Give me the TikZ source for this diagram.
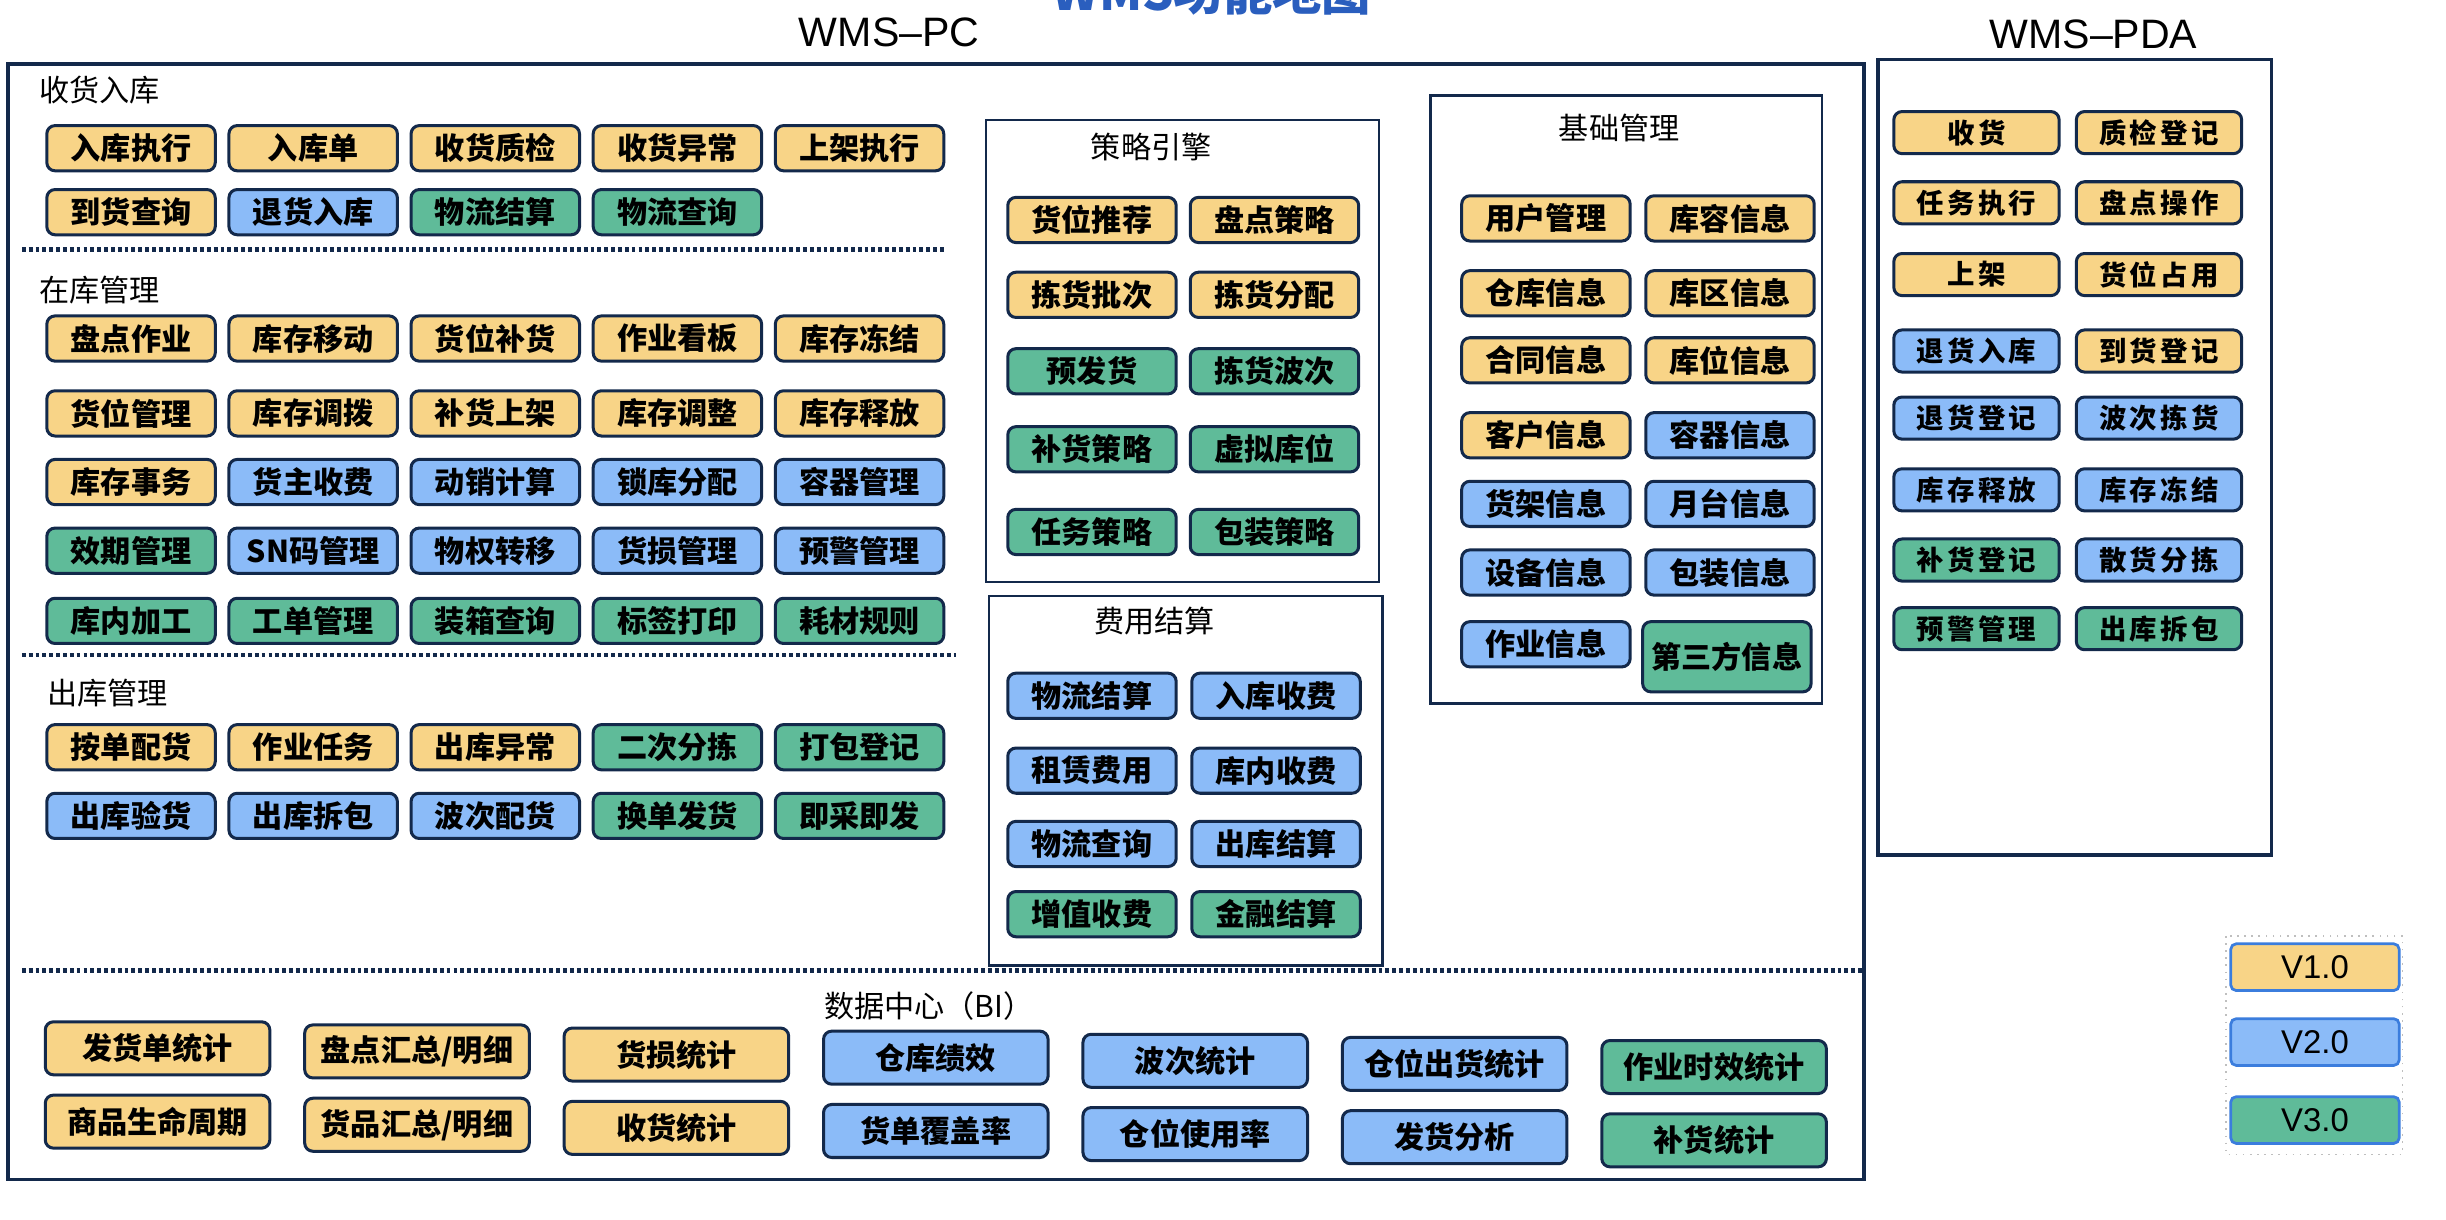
\documentclass[tikz,border=0pt]{standalone}
\usepackage{fontspec}
\setmainfont{Liberation Sans}
\newfontfamily\cjk{Noto Sans CJK SC}
\newfontfamily\cjkpda{Noto Sans CJK SC}[LetterSpace=12]
\usetikzlibrary{positioning}

\definecolor{c1}{HTML}{F8D487}
\definecolor{c2}{HTML}{8BBBF8}
\definecolor{c3}{HTML}{5FBB99}
\definecolor{navy}{HTML}{13294B}
\definecolor{ttl}{HTML}{2A5EBE}
\definecolor{lgd}{HTML}{3B7DDD}

\begin{document}
\begin{tikzpicture}[
    x=0.02cm, y=-0.02cm,
    box/.style={
        draw=navy, line width=1.1pt, rounded corners=3pt,
        minimum width=2.16cm, minimum height=0.58cm, inner sep=0pt,
        font=\cjk\bfseries\fontsize{11}{11}\selectfont
    },
    pdabox/.style={box, minimum width=2.12cm, minimum height=0.54cm,
        font=\cjkpda\bfseries\fontsize{10}{10}\selectfont},
    bibox/.style={box, minimum width=2.88cm, minimum height=0.68cm},
    frame/.style={draw=navy, line width=1pt},
    sep/.style={draw=navy, line width=1.6pt, dash pattern=on 1.4pt off 1.1pt},
    grp/.style={font=\cjk\fontsize{11}{11}\selectfont, inner sep=0pt},
    head/.style={font=\fontsize{15}{15}\selectfont, inner sep=0pt}
]
\useasboundingbox (0,0) rectangle (1568,782);

% --- titles ---
\node[anchor=base, text=ttl, font=\cjk\bfseries\fontsize{18}{18}\selectfont] (title) at (777,7) {WMS功能地图};
\node[head] (pc) at (570,21) {WMS–PC};
\node[head] (pda) at (1342,22) {WMS–PDA};

% --- frames ---
\draw[frame, line width=1.3pt] (5,41) rectangle (1195,756);
\draw[frame, line width=1.3pt] (1204,38) rectangle (1456,548);
\draw[frame] (632,77) rectangle (884,373);
\draw[frame] (634,382) rectangle (886,619);
\draw[frame] (917,61) rectangle (1168,451);

% --- separators ---
\draw[sep] (14,160) -- (605,160);
\draw[sep] (14,420) -- (613,420);
\draw[sep] (14,622) -- (1195,622);

% --- receiving ---
\node[grp, anchor=west] (sh) at (25,58) {收货入库};
\foreach \t/\c [count=\i] in {入库执行/c1, 入库单/c1, 收货质检/c1, 收货异常/c1, 上架执行/c1}
    \node[box, fill=\c] (sh-1-\i) at ({84+116.75*(\i-1)},95) {\t};
\foreach \t/\c [count=\i] in {到货查询/c1, 退货入库/c2, 物流结算/c3, 物流查询/c3}
    \node[box, fill=\c] (sh-2-\i) at ({84+116.75*(\i-1)},136) {\t};

% --- in stock ---
\node[grp, anchor=west] (zk) at (25,186) {在库管理};
\foreach \t/\c [count=\i] in {盘点作业/c1, 库存移动/c1, 货位补货/c1, 作业看板/c1, 库存冻结/c1}
    \node[box, fill=\c] (zk-1-\i) at ({84+116.75*(\i-1)},217) {\t};
\foreach \t/\c [count=\i] in {货位管理/c1, 库存调拨/c1, 补货上架/c1, 库存调整/c1, 库存释放/c1}
    \node[box, fill=\c] (zk-2-\i) at ({84+116.75*(\i-1)},265) {\t};
\foreach \t/\c [count=\i] in {库存事务/c1, 货主收费/c2, 动销计算/c2, 锁库分配/c2, 容器管理/c2}
    \node[box, fill=\c] (zk-3-\i) at ({84+116.75*(\i-1)},309) {\t};
\foreach \t/\c [count=\i] in {效期管理/c3, SN码管理/c2, 物权转移/c2, 货损管理/c2, 预警管理/c2}
    \node[box, fill=\c] (zk-4-\i) at ({84+116.75*(\i-1)},353) {\t};
\foreach \t/\c [count=\i] in {库内加工/c3, 工单管理/c3, 装箱查询/c3, 标签打印/c3, 耗材规则/c3}
    \node[box, fill=\c] (zk-5-\i) at ({84+116.75*(\i-1)},398) {\t};

% --- outbound ---
\node[grp, anchor=west] (ck) at (30,444) {出库管理};
\foreach \t/\c [count=\i] in {按单配货/c1, 作业任务/c1, 出库异常/c1, 二次分拣/c3, 打包登记/c3}
    \node[box, fill=\c] (ck-1-\i) at ({84+116.75*(\i-1)},479) {\t};
\foreach \t/\c [count=\i] in {出库验货/c2, 出库拆包/c2, 波次配货/c2, 换单发货/c3, 即采即发/c3}
    \node[box, fill=\c] (ck-2-\i) at ({84+116.75*(\i-1)},523) {\t};

% --- strategy engine ---
\node[grp] (cl) at (738,94) {策略引擎};
\foreach \ta/\ca/\tb/\cb/\y [count=\i] in {货位推荐/c1/盘点策略/c1/141, 拣货批次/c1/拣货分配/c1/189,
        预发货/c3/拣货波次/c3/238, 补货策略/c3/虚拟库位/c3/288, 任务策略/c3/包装策略/c3/341} {
    \node[box, fill=\ca] (cl-\i-1) at (700,\y) {\ta};
    \node[box, fill=\cb] (cl-\i-2) at (817,\y) {\tb};
}

% --- billing ---
\node[grp] (fy) at (740,398) {费用结算};
\foreach \ta/\ca/\tb/\cb/\y [count=\i] in {物流结算/c2/入库收费/c2/446, 租赁费用/c2/库内收费/c2/494,
        物流查询/c2/出库结算/c2/541, 增值收费/c3/金融结算/c3/586} {
    \node[box, fill=\ca] (fy-\i-1) at (700,\y) {\ta};
    \node[box, fill=\cb] (fy-\i-2) at (818,\y) {\tb};
}

% --- master data ---
\node[grp] (jc) at (1038,82) {基础管理};
\foreach \ta/\ca/\tb/\cb/\y [count=\i] in {用户管理/c1/库容信息/c1/140, 仓库信息/c1/库区信息/c1/188,
        合同信息/c1/库位信息/c1/231, 客户信息/c1/容器信息/c2/279, 货架信息/c2/月台信息/c2/323,
        设备信息/c2/包装信息/c2/367} {
    \node[box, fill=\ca] (jc-\i-1) at (991,\y) {\ta};
    \node[box, fill=\cb] (jc-\i-2) at (1109,\y) {\tb};
}
\node[box, fill=c2] (jc-7-1) at (991,413) {作业信息};
\node[box, fill=c3, minimum height=0.9cm] (jc-7-2) at (1107,421) {第三方信息};

% --- PDA ---
\foreach \ta/\ca/\tb/\cb/\y [count=\i] in {收货/c1/质检登记/c1/85, 任务执行/c1/盘点操作/c1/130,
        上架/c1/货位占用/c1/176, 退货入库/c2/到货登记/c1/225, 退货登记/c2/波次拣货/c2/268,
        库存释放/c2/库存冻结/c2/314, 补货登记/c3/散货分拣/c2/359, 预警管理/c3/出库拆包/c3/403} {
    \node[pdabox, fill=\ca] (pda-\i-1) at (1267,\y) {\ta};
    \node[pdabox, fill=\cb] (pda-\i-2) at (1384,\y) {\tb};
}

% --- BI ---
\node[grp, anchor=west] (bi) at (528,645) {数据中心（BI）};
\foreach \t/\c [count=\i] in {发货单统计/c1, {盘点汇总/明细}/c1, 货损统计/c1, 仓库绩效/c2,
        波次统计/c2, 仓位出货统计/c2, 作业时效统计/c3}
    \node[bibox, fill=\c] (bi-1-\i) at ({101+166.3*(\i-1)},{672+2*(\i-1)}) {\t};
\foreach \t/\c [count=\i] in {商品生命周期/c1, {货品汇总/明细}/c1, 收货统计/c1, 货单覆盖率/c2,
        仓位使用率/c2, 发货分析/c2, 补货统计/c3}
    \node[bibox, fill=\c] (bi-2-\i) at ({101+166.3*(\i-1)},{719+2*(\i-1)}) {\t};

% --- legend ---
\draw[gray!50, dotted, line width=0.6pt] (1427,600) rectangle (1540,740);
\foreach \t/\c/\y [count=\i] in {V1.0/c1/620, V2.0/c2/668, V3.0/c3/718}
    \node[draw=lgd, line width=1pt, rounded corners=2pt, fill=\c, minimum width=2.16cm,
        minimum height=0.6cm, inner sep=0pt, font=\fontsize{12}{12}\selectfont] (lg-\i) at (1484,\y) {\t};

\end{tikzpicture}
\end{document}
